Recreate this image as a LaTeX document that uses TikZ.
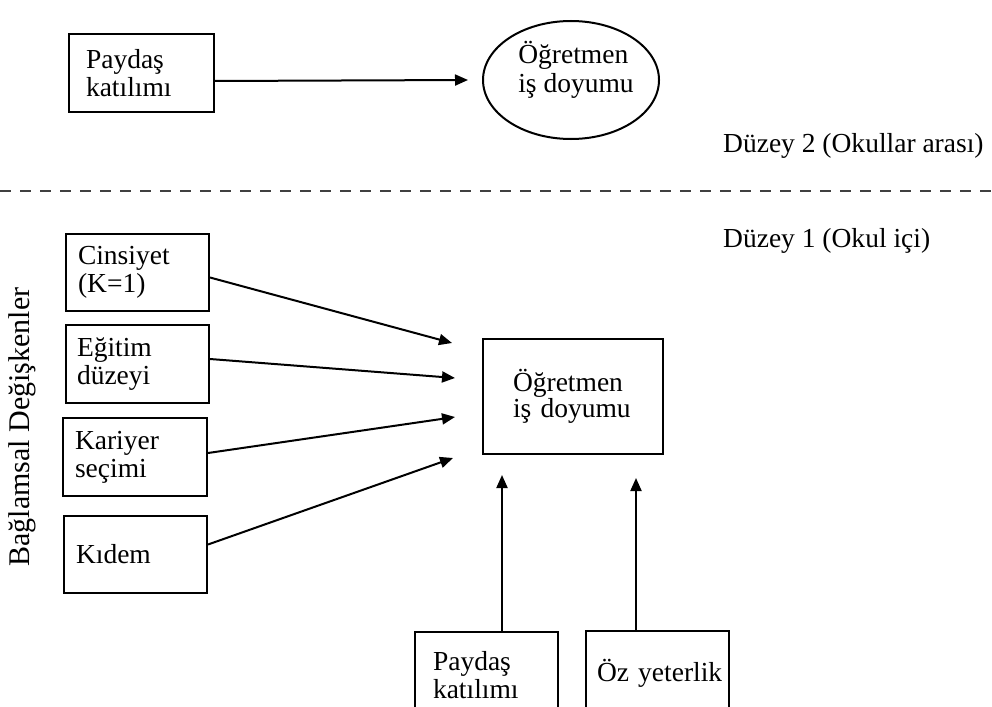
\documentclass[tikz,border=0pt]{standalone}
\usepackage{fontspec}
\setmainfont{Liberation Serif}
\usetikzlibrary{arrows.meta,shapes.geometric}
\newcommand{\dfont}{\fontsize{27.5}{28}\selectfont}
\tikzset{
  box/.style={draw, line width=2pt, align=left, anchor=north west, inner ysep=0pt, font=\dfont},
  arr/.style={line width=2pt, -{Triangle[length=13pt,width=11pt]}},
  dashline/.style={line width=2pt, black!75, dash pattern=on 11pt off 9pt},
  lbl/.style={font=\dfont, inner sep=0pt},
}
\begin{document}
\begin{tikzpicture}[x=1pt,y=-1pt]
\useasboundingbox (0,0) rectangle (992,706);
\clip (0,0) rectangle (992,706);
% Level 2
\node[box, minimum width=145pt, minimum height=78pt, inner xsep=17pt, text width=111pt] (tp) at (68,33) {Paydaş\\katılımı};
\node[draw, ellipse, line width=2pt, minimum width=176pt, minimum height=118pt, inner sep=0pt] (ell) at (571,80) {};
\node[lbl, align=left, font={\fontsize{27.5}{28.5}\selectfont}] (elltext) at (576,70) {Öğretmen\\iş doyumu};
\coordinate (t0) at (468,80);
\draw[arr] ([yshift=-8pt]tp.east) -- (t0);
\node[lbl, anchor=base west] (d2) at (723,152) {Düzey 2 (Okullar arası)};
% dashed separator
\coordinate (dl) at (0,191);
\coordinate (dr) at (992,191);
\draw[dashline] (dl) -- (dr);
\node[lbl, anchor=base west] (d1) at (723,247) {Düzey 1 (Okul içi)};
% Level 1
\node[lbl, rotate=90, anchor=center, font={\fontsize{30}{30}\selectfont}] (bag) at (22,427) {Bağlamsal Değişkenler};
\node[box, minimum width=143pt, minimum height=77pt, inner xsep=12pt, text width=119pt] (cins) at (65,233) {Cinsiyet\\(K=1)};
\node[box, minimum width=143pt, minimum height=78pt, inner xsep=11pt, text width=121pt] (egit) at (65,324) {Eğitim\\düzeyi};
\node[box, minimum width=144pt, minimum height=78pt, inner xsep=12pt, text width=120pt] (kar) at (62,417) {Kariyer\\seçimi};
\node[box, minimum width=143pt, minimum height=77pt, inner xsep=12pt, text width=119pt] (kid) at (63,515) {Kıdem};
\node[box, minimum width=180pt, minimum height=115pt, inner xsep=30pt, text width=120pt, font={\fontsize{27.5}{25}\selectfont}] (ctr) at (482,338) {Öğretmen\\iş doyumu};
\coordinate (t1) at (452,343);
\coordinate (t2) at (455,378);
\coordinate (t3) at (455,417);
\coordinate (t4) at (453,458);
\draw[arr] ([yshift=-5pt]cins.east) -- (t1);
\draw[arr] ([yshift=5pt]egit.east) -- (t2);
\draw[arr] ([yshift=4pt]kar.east) -- (t3);
\draw[arr] ([yshift=10pt]kid.east) -- (t4);
% bottom boxes
\node[box, minimum width=143pt, minimum height=86pt, inner xsep=18pt, text width=107pt] (pb) at (414,631) {Paydaş\\katılımı};
\node[box, minimum width=143pt, minimum height=84pt, inner xsep=11pt, text width=121pt] (oz) at (585,630) {\mbox{Öz yeterlik}};
\coordinate (b1) at (502,475);
\coordinate (b2) at (636,478);
\draw[arr] (pb.north -| b1) -- (b1);
\draw[arr] (oz.north -| b2) -- (b2);
\end{tikzpicture}
\end{document}
